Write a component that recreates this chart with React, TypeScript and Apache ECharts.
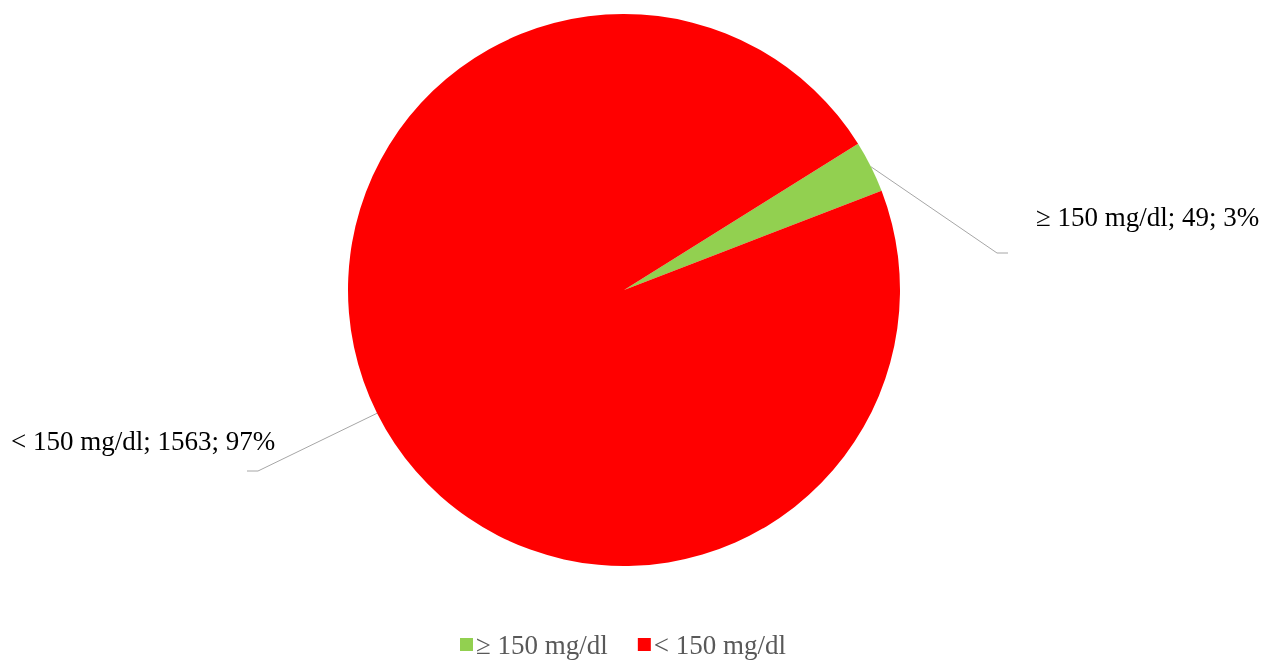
import React, { useEffect, useRef } from "react";
import * as echarts from "echarts";

const categories = ["≥ 150 mg/dl", "< 150 mg/dl"];
const values = [49, 1563];
const colors = ["#92D050", "#FF0000"];

export default function App() {
  const ref = useRef<HTMLDivElement>(null);
  useEffect(() => {
    document.body.style.margin = "0";
    const chart = echarts.init(ref.current!, null, { renderer: "svg" });
    const font = "'Liberation Serif', 'Times New Roman', serif";
    chart.setOption({
      animation: false,
      color: colors,
      legend: {
        data: categories,
        left: 455,
        top: 626,
        itemWidth: 13,
        itemHeight: 13,
        itemGap: 30,
        icon: "rect",
        textStyle: { fontFamily: font, fontSize: 27, color: "#595959", padding: [0, 0, 0, -2] },
      },
      series: [
        {
          type: "pie",
          center: [624, 290],
          radius: 276,
          startAngle: 32,
          clockwise: true,
          percentPrecision: 0,
          data: categories.map((c, i) => ({ name: c, value: values[i] })),
          label: {
            show: true,
            position: "outside",
            formatter: "{b}; {c}; {d}%",
            fontFamily: font,
            fontSize: 27,
            color: "#000",
          },
          labelLine: { show: true, lineStyle: { color: "#A6A6A6", width: 1 } },
          labelLayout: (p: any) => {
            const s = p.labelLinePoints ? p.labelLinePoints[0] : [0, 0];
            if (p.dataIndex === 0) {
              return {
                x: 1036,
                y: 217,
                align: "left",
                verticalAlign: "middle",
                labelLinePoints: [s, [997, 253], [1008, 253]],
              };
            }
            return {
              x: 11,
              y: 441,
              align: "left",
              verticalAlign: "middle",
              labelLinePoints: [s, [258, 471], [247, 471]],
            };
          },
        },
      ],
    });
    return () => chart.dispose();
  }, []);
  return <div ref={ref} style={{ position: "fixed", left: 0, top: 0, width: 1263, height: 660 }} />;
}
